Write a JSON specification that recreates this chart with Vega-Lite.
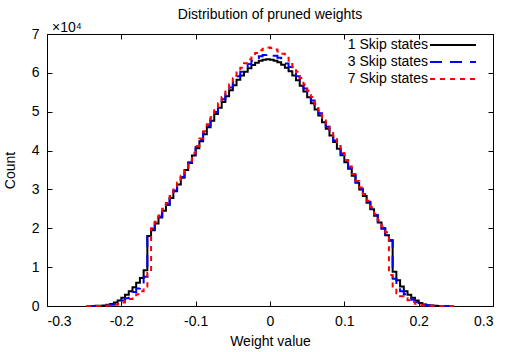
{
  "$schema": "https://vega.github.io/schema/vega-lite/v6.json",
  "width": 446,
  "height": 272,
  "autosize": {"type": "none"},
  "padding": {"left": 47, "top": 34, "right": 13, "bottom": 46},
  "background": "white",
  "title": {"text": "Distribution of pruned weights", "fontSize": 14, "fontWeight": "normal", "color": "black", "frame": "group", "offset": -1, "anchor": "middle"},
  "config": {
    "font": "Liberation Sans",
    "view": {"stroke": "black", "strokeWidth": 1},
    "axis": {"domain": false, "grid": false, "tickSize": -5, "tickColor": "black", "tickWidth": 1, "labelColor": "black", "labelFontSize": 14, "titleFontSize": 14, "titleFontWeight": "normal", "titleColor": "black"}
  },
  "layer": [
    {
      "data": {"values": [
        {"w":-0.2475,"1 Skip states":0,"3 Skip states":0,"7 Skip states":0},
        {"w":-0.2425,"1 Skip states":20,"3 Skip states":10,"7 Skip states":10},
        {"w":-0.2375,"1 Skip states":30,"3 Skip states":20,"7 Skip states":10},
        {"w":-0.2325,"1 Skip states":50,"3 Skip states":30,"7 Skip states":20},
        {"w":-0.2275,"1 Skip states":80,"3 Skip states":50,"7 Skip states":30},
        {"w":-0.2225,"1 Skip states":150,"3 Skip states":90,"7 Skip states":60},
        {"w":-0.2175,"1 Skip states":300,"3 Skip states":150,"7 Skip states":100},
        {"w":-0.2125,"1 Skip states":500,"3 Skip states":300,"7 Skip states":150},
        {"w":-0.2075,"1 Skip states":900,"3 Skip states":500,"7 Skip states":300},
        {"w":-0.2025,"1 Skip states":1400,"3 Skip states":900,"7 Skip states":500},
        {"w":-0.1975,"1 Skip states":2100,"3 Skip states":1400,"7 Skip states":900},
        {"w":-0.1925,"1 Skip states":2900,"3 Skip states":2000,"7 Skip states":1300},
        {"w":-0.1875,"1 Skip states":3800,"3 Skip states":2800,"7 Skip states":1800},
        {"w":-0.1825,"1 Skip states":4800,"3 Skip states":3600,"7 Skip states":2400},
        {"w":-0.1775,"1 Skip states":6000,"3 Skip states":4500,"7 Skip states":3000},
        {"w":-0.1725,"1 Skip states":7200,"3 Skip states":5500,"7 Skip states":3800},
        {"w":-0.1675,"1 Skip states":9200,"3 Skip states":7500,"7 Skip states":5000},
        {"w":-0.1625,"1 Skip states":18000,"3 Skip states":18300,"7 Skip states":8500},
        {"w":-0.1575,"1 Skip states":19500,"3 Skip states":19800,"7 Skip states":20000},
        {"w":-0.1525,"1 Skip states":21200,"3 Skip states":21400,"7 Skip states":21700},
        {"w":-0.1475,"1 Skip states":22800,"3 Skip states":23000,"7 Skip states":23300},
        {"w":-0.1425,"1 Skip states":24500,"3 Skip states":24700,"7 Skip states":25000},
        {"w":-0.1375,"1 Skip states":26000,"3 Skip states":26200,"7 Skip states":26500},
        {"w":-0.1325,"1 Skip states":27800,"3 Skip states":28000,"7 Skip states":28300},
        {"w":-0.1275,"1 Skip states":29500,"3 Skip states":29700,"7 Skip states":30000},
        {"w":-0.1225,"1 Skip states":31300,"3 Skip states":31500,"7 Skip states":31800},
        {"w":-0.1175,"1 Skip states":33000,"3 Skip states":33200,"7 Skip states":33500},
        {"w":-0.1125,"1 Skip states":35000,"3 Skip states":35200,"7 Skip states":35500},
        {"w":-0.1075,"1 Skip states":36800,"3 Skip states":37000,"7 Skip states":37400},
        {"w":-0.1025,"1 Skip states":38700,"3 Skip states":39000,"7 Skip states":39300},
        {"w":-0.0975,"1 Skip states":40600,"3 Skip states":40900,"7 Skip states":41200},
        {"w":-0.0925,"1 Skip states":42400,"3 Skip states":42700,"7 Skip states":43100},
        {"w":-0.0875,"1 Skip states":44200,"3 Skip states":44600,"7 Skip states":45000},
        {"w":-0.0825,"1 Skip states":46000,"3 Skip states":46400,"7 Skip states":46800},
        {"w":-0.0775,"1 Skip states":47700,"3 Skip states":48200,"7 Skip states":48600},
        {"w":-0.0725,"1 Skip states":49400,"3 Skip states":49900,"7 Skip states":50400},
        {"w":-0.0675,"1 Skip states":51000,"3 Skip states":51600,"7 Skip states":52200},
        {"w":-0.0625,"1 Skip states":52500,"3 Skip states":53200,"7 Skip states":53800},
        {"w":-0.0575,"1 Skip states":54000,"3 Skip states":54700,"7 Skip states":55500},
        {"w":-0.0525,"1 Skip states":55500,"3 Skip states":56200,"7 Skip states":57100},
        {"w":-0.0475,"1 Skip states":56800,"3 Skip states":57600,"7 Skip states":58600},
        {"w":-0.0425,"1 Skip states":58200,"3 Skip states":59100,"7 Skip states":60100},
        {"w":-0.0375,"1 Skip states":59300,"3 Skip states":60300,"7 Skip states":61300},
        {"w":-0.0325,"1 Skip states":60300,"3 Skip states":61300,"7 Skip states":62500},
        {"w":-0.0275,"1 Skip states":61200,"3 Skip states":62300,"7 Skip states":63500},
        {"w":-0.0225,"1 Skip states":62000,"3 Skip states":63100,"7 Skip states":64400},
        {"w":-0.0175,"1 Skip states":62600,"3 Skip states":63800,"7 Skip states":65100},
        {"w":-0.0125,"1 Skip states":63100,"3 Skip states":64300,"7 Skip states":65800},
        {"w":-0.0075,"1 Skip states":63400,"3 Skip states":64600,"7 Skip states":66200},
        {"w":-0.0025,"1 Skip states":63500,"3 Skip states":64800,"7 Skip states":66500},
        {"w":0.0025,"1 Skip states":63400,"3 Skip states":64700,"7 Skip states":66400},
        {"w":0.0075,"1 Skip states":63100,"3 Skip states":64400,"7 Skip states":66000},
        {"w":0.0125,"1 Skip states":62700,"3 Skip states":63900,"7 Skip states":65500},
        {"w":0.0175,"1 Skip states":62100,"3 Skip states":63300,"7 Skip states":64900},
        {"w":0.0225,"1 Skip states":61300,"3 Skip states":62400,"7 Skip states":63900},
        {"w":0.0275,"1 Skip states":60400,"3 Skip states":61500,"7 Skip states":62800},
        {"w":0.0325,"1 Skip states":59300,"3 Skip states":60400,"7 Skip states":61600},
        {"w":0.0375,"1 Skip states":58100,"3 Skip states":59100,"7 Skip states":60300},
        {"w":0.0425,"1 Skip states":56700,"3 Skip states":57600,"7 Skip states":58700},
        {"w":0.0475,"1 Skip states":55200,"3 Skip states":56000,"7 Skip states":57000},
        {"w":0.0525,"1 Skip states":53700,"3 Skip states":54500,"7 Skip states":55400},
        {"w":0.0575,"1 Skip states":52200,"3 Skip states":52900,"7 Skip states":53800},
        {"w":0.0625,"1 Skip states":50600,"3 Skip states":51300,"7 Skip states":52000},
        {"w":0.0675,"1 Skip states":49000,"3 Skip states":49600,"7 Skip states":50200},
        {"w":0.0725,"1 Skip states":47300,"3 Skip states":47800,"7 Skip states":48400},
        {"w":0.0775,"1 Skip states":45600,"3 Skip states":46100,"7 Skip states":46600},
        {"w":0.0825,"1 Skip states":43900,"3 Skip states":44300,"7 Skip states":44800},
        {"w":0.0875,"1 Skip states":42200,"3 Skip states":42600,"7 Skip states":43000},
        {"w":0.0925,"1 Skip states":40500,"3 Skip states":40800,"7 Skip states":41200},
        {"w":0.0975,"1 Skip states":38800,"3 Skip states":39100,"7 Skip states":39400},
        {"w":0.1025,"1 Skip states":37000,"3 Skip states":37300,"7 Skip states":37600},
        {"w":0.1075,"1 Skip states":35300,"3 Skip states":35500,"7 Skip states":35900},
        {"w":0.1125,"1 Skip states":33500,"3 Skip states":33700,"7 Skip states":34000},
        {"w":0.1175,"1 Skip states":31700,"3 Skip states":31900,"7 Skip states":32200},
        {"w":0.1225,"1 Skip states":30000,"3 Skip states":30200,"7 Skip states":30500},
        {"w":0.1275,"1 Skip states":28300,"3 Skip states":28500,"7 Skip states":28800},
        {"w":0.1325,"1 Skip states":26600,"3 Skip states":26800,"7 Skip states":27100},
        {"w":0.1375,"1 Skip states":24900,"3 Skip states":25100,"7 Skip states":25400},
        {"w":0.1425,"1 Skip states":23200,"3 Skip states":23400,"7 Skip states":23700},
        {"w":0.1475,"1 Skip states":21500,"3 Skip states":21700,"7 Skip states":22000},
        {"w":0.1525,"1 Skip states":19900,"3 Skip states":20100,"7 Skip states":20400},
        {"w":0.1575,"1 Skip states":18200,"3 Skip states":18400,"7 Skip states":19000},
        {"w":0.1625,"1 Skip states":16800,"3 Skip states":17000,"7 Skip states":8000},
        {"w":0.1675,"1 Skip states":8800,"3 Skip states":7000,"7 Skip states":4500},
        {"w":0.1725,"1 Skip states":6600,"3 Skip states":4800,"7 Skip states":3300},
        {"w":0.1775,"1 Skip states":5000,"3 Skip states":3800,"7 Skip states":2500},
        {"w":0.1825,"1 Skip states":3800,"3 Skip states":3000,"7 Skip states":2000},
        {"w":0.1875,"1 Skip states":2900,"3 Skip states":2200,"7 Skip states":1500},
        {"w":0.1925,"1 Skip states":2100,"3 Skip states":1600,"7 Skip states":1000},
        {"w":0.1975,"1 Skip states":1400,"3 Skip states":1000,"7 Skip states":600},
        {"w":0.2025,"1 Skip states":800,"3 Skip states":600,"7 Skip states":300},
        {"w":0.2075,"1 Skip states":400,"3 Skip states":300,"7 Skip states":150},
        {"w":0.2125,"1 Skip states":200,"3 Skip states":150,"7 Skip states":80},
        {"w":0.2175,"1 Skip states":100,"3 Skip states":80,"7 Skip states":40},
        {"w":0.2225,"1 Skip states":50,"3 Skip states":40,"7 Skip states":20},
        {"w":0.2275,"1 Skip states":30,"3 Skip states":20,"7 Skip states":10},
        {"w":0.2325,"1 Skip states":20,"3 Skip states":10,"7 Skip states":10},
        {"w":0.2375,"1 Skip states":10,"3 Skip states":10,"7 Skip states":0},
        {"w":0.2425,"1 Skip states":10,"3 Skip states":0,"7 Skip states":0},
        {"w":0.2475,"1 Skip states":0,"3 Skip states":0,"7 Skip states":0}
      ]},
      "transform": [{"fold": ["1 Skip states", "3 Skip states", "7 Skip states"], "as": ["series", "count"]}],
      "mark": {"type": "line", "interpolate": "step", "strokeWidth": 2},
      "encoding": {
        "x": {"field": "w", "type": "quantitative", "scale": {"domain": [-0.3, 0.3], "nice": false, "zero": false},
              "axis": {"orient": "bottom", "values": [-0.3, -0.2, -0.1, 0, 0.1, 0.2, 0.3], "labelExpr": "replace(format(datum.value, '.1~f'), '\u2212', '-')", "labelPadding": 13, "title": "Weight value", "titlePadding": 6}},
        "y": {"field": "count", "type": "quantitative", "scale": {"domain": [0, 70000], "nice": false},
              "axis": {"orient": "left", "values": [0, 10000, 20000, 30000, 40000, 50000, 60000, 70000], "labelExpr": "format(datum.value / 10000, 'd')", "labelPadding": 13, "title": "Count", "titlePadding": 14}},
        "color": {"field": "series", "type": "nominal",
                  "scale": {"domain": ["1 Skip states", "3 Skip states", "7 Skip states"], "range": ["#000000", "#0000ff", "#ff0000"]},
                  "legend": {"title": null, "orient": "none", "legendX": 399, "legendY": 4, "symbolType": "M-4.6,0H4.6", "symbolSize": 100, "symbolStrokeWidth": 2, "labelAlign": "right", "labelOffset": -32, "labelFontSize": 14, "labelColor": "black", "rowPadding": 3, "padding": 0}},
        "strokeDash": {"field": "series", "type": "nominal",
                  "scale": {"domain": ["1 Skip states", "3 Skip states", "7 Skip states"], "range": [[1, 0], [12, 8], [5, 5]]},
                  "legend": {"title": null, "orient": "none", "legendX": 399, "legendY": 4, "symbolType": "M-4.6,0H4.6", "symbolSize": 100, "symbolStrokeWidth": 2, "labelAlign": "right", "labelOffset": -32, "labelFontSize": 14, "labelColor": "black", "rowPadding": 3, "padding": 0}}
      }
    },
    {
      "data": {"values": [{"label": "×10⁴"}]},
      "mark": {"type": "text", "align": "left", "baseline": "alphabetic", "dx": 5, "dy": -2, "fontSize": 14, "color": "black"},
      "encoding": {
        "x": {"datum": -0.3, "type": "quantitative", "axis": {"orient": "top", "values": [-0.3, -0.2, -0.1, 0, 0.1, 0.2, 0.3], "labels": false, "title": null}},
        "y": {"datum": 70000, "type": "quantitative", "axis": {"orient": "right", "values": [0, 10000, 20000, 30000, 40000, 50000, 60000, 70000], "labels": false, "title": null}},
        "text": {"field": "label"}
      }
    }
  ],
  "resolve": {"axis": {"x": "independent", "y": "independent"}}
}
